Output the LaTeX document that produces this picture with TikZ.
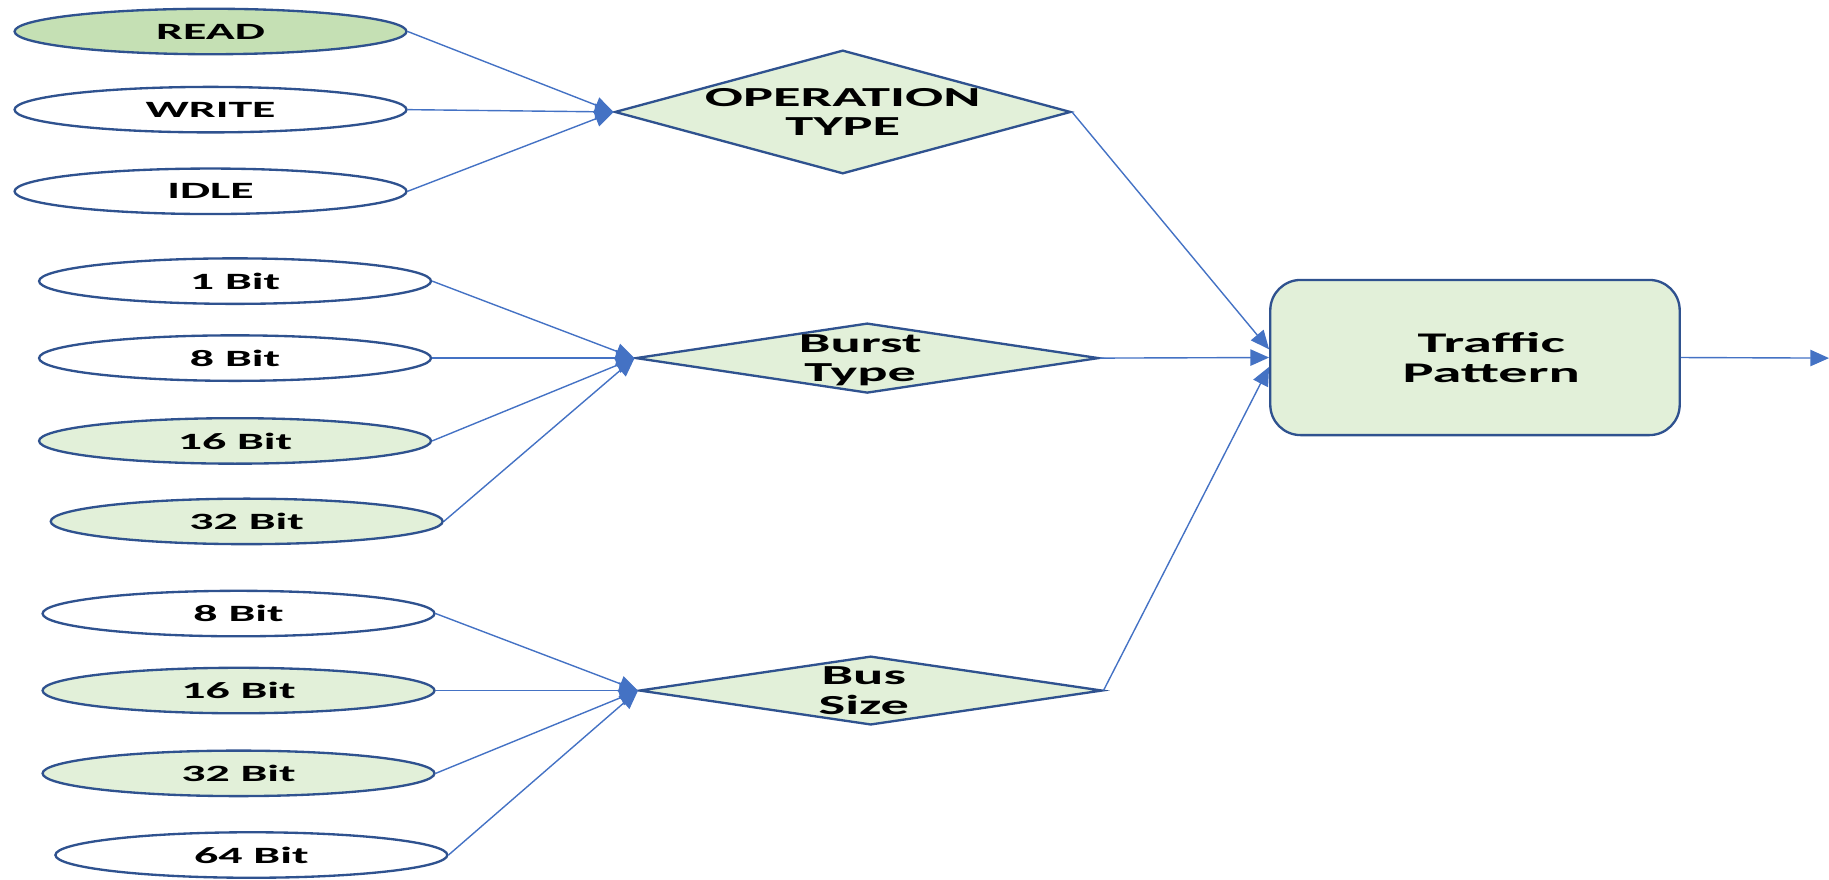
\documentclass[tikz,border=0pt]{standalone}
\usepackage{fontspec}
\usetikzlibrary{shapes.geometric,arrows.meta}
\newfontfamily\widefont{Carlito}[FakeStretch=2.05]
\definecolor{edgeblue}{HTML}{2F528F}
\definecolor{linkblue}{HTML}{4472C4}
\definecolor{paleGreen}{HTML}{E2F0D9}
\definecolor{midGreen}{HTML}{C5E0B4}
\tikzset{
  choice/.style={ellipse, draw=edgeblue, line width=1pt, fill=white,
    minimum width=168pt, minimum height=19.5pt, inner sep=0pt,
    font=\widefont\bfseries\fontsize{10}{11}\selectfont},
  picked/.style={choice, fill=paleGreen},
  decision/.style={diamond, draw=edgeblue, line width=1pt, fill=paleGreen, inner sep=0pt},
  dtext/.style={align=center, inner sep=0pt,
    font=\widefont\bfseries\fontsize{11.8}{12.6}\selectfont},
  link/.style={draw=linkblue, line width=0.6pt, -{Triangle[length=8pt,width=7pt]}},
}
\begin{document}
\begin{tikzpicture}[x=0.5pt,y=-0.5pt]
\useasboundingbox (0,0) rectangle (1568,754);

% operation type inputs
\node[choice, fill=midGreen] (read)  at (180.5,27)  {READ};
\node[choice]                (write) at (180.5,94)  {WRITE};
\node[choice]                (idle)  at (180.5,164) {IDLE};

% burst type inputs
\node[choice] (b1)  at (201.5,241) {1 Bit};
\node[choice] (b8)  at (201.5,307) {8 Bit};
\node[picked] (b16) at (201.5,378) {16 Bit};
\node[picked] (b32) at (211.5,447) {32 Bit};

% bus size inputs
\node[choice] (s8)  at (204.5,526) {8 Bit};
\node[picked] (s16) at (204.5,592) {16 Bit};
\node[picked] (s32) at (204.5,663) {32 Bit};
\node[choice] (s64) at (215.5,733) {64 Bit};

% decisions
\node[decision, minimum width=195.5pt, minimum height=53pt] (op) at (722.5,96) {};
\node[dtext] (optext) at (op.center) {OPERATION\\TYPE};
\node[decision, minimum width=198.5pt, minimum height=30pt] (burst) at (743.5,307) {};
\node[dtext] (bursttext) at ([xshift=-3pt,yshift=-1pt]burst.center) {Burst\\Type};
\node[decision, minimum width=198.5pt, minimum height=29.5pt] (bus) at (746.5,592) {};
\node[dtext] (bustext) at ([xshift=-3pt]bus.center) {Bus\\Size};

% result
\node[draw=edgeblue, line width=1pt, fill=paleGreen, rounded corners=13pt,
      minimum width=175.5pt, minimum height=66.5pt] (tp) at (1264.5,306.5) {};
\node[dtext, font=\widefont\bfseries\fontsize{12.2}{12.8}\selectfont] (tptext)
      at ([xshift=7pt]tp.center) {Traffic\\Pattern};
\coordinate (out) at (1568,307);

% connectors
\foreach \s in {read,write,idle} \draw[link] (\s.east) -- (op.west);
\foreach \s in {b1,b8,b16,b32} \draw[link] (\s.east) -- (burst.west);
\foreach \s in {s8,s16,s32,s64} \draw[link] (\s.east) -- (bus.west);
\draw[link] (op.east) -- ([yshift=3.5pt]tp.west);
\draw[link] (burst.east) -- (tp.west);
\draw[link] (bus.east) -- ([yshift=-4pt]tp.west);
\draw[link] (tp.east) -- (out);
\end{tikzpicture}
\end{document}
